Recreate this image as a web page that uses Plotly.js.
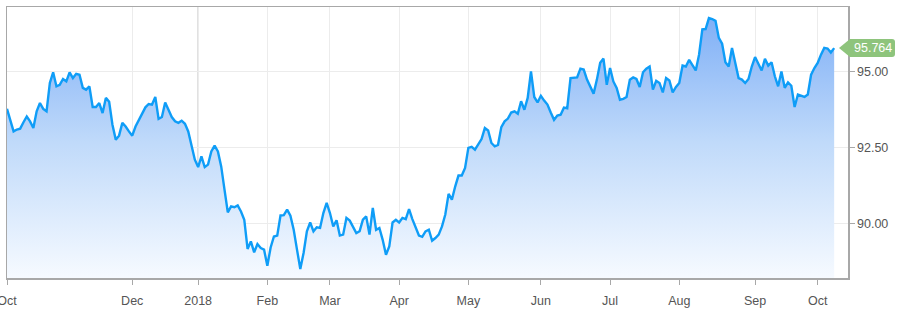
<!DOCTYPE html>
<html>
<head>
<meta charset="utf-8">
<script src="https://cdn.plot.ly/plotly-3.0.1.min.js"></script>
<style>
  html, body { margin: 0; padding: 0; background: #fff; }
  #chart { width: 900px; height: 317px; }
</style>
</head>
<body>
<div id="chart"></div>
<script>
// Daily closing values (one per trading day, Oct 2017 – Oct 2018)
const closeValues = [
  93.77, 93.36, 93.03, 93.09, 93.12, 93.33, 93.52, 93.36, 93.14, 93.69,
  93.96, 93.77, 93.69, 94.62, 94.97, 94.51, 94.56, 94.75, 94.67, 94.97,
  94.78, 94.92, 94.89, 94.46, 94.40, 94.51, 93.83, 93.83, 93.96, 93.63,
  94.13, 94.00, 93.25, 92.76, 92.89, 93.31, 93.19, 93.03, 92.89, 93.19,
  93.40, 93.63, 93.82, 93.93, 93.91, 94.16, 93.44, 93.50, 93.98, 93.74,
  93.50, 93.36, 93.31, 93.38, 93.28, 93.03, 92.59, 92.10, 91.86, 92.21,
  91.86, 91.94, 92.37, 92.56, 92.37, 91.88, 91.12, 90.37, 90.57, 90.54,
  90.60, 90.40, 90.13, 89.17, 89.42, 89.06, 89.33, 89.20, 89.15, 88.62,
  89.22, 89.58, 89.61, 90.27, 90.28, 90.46, 90.26, 89.80, 89.15, 88.51,
  89.04, 89.75, 90.04, 89.75, 89.88, 89.86, 90.35, 90.68, 90.35, 89.91,
  90.11, 89.61, 89.64, 90.19, 90.10, 89.91, 89.69, 89.75, 90.13, 90.24,
  89.64, 90.52, 89.80, 89.86, 89.47, 88.98, 89.25, 90.04, 90.13, 90.04,
  90.19, 90.15, 90.48, 90.15, 89.86, 89.61, 89.57, 89.75, 89.80, 89.44,
  89.53, 89.64, 89.91, 90.30, 90.98, 90.79, 91.22, 91.58, 91.58, 91.83,
  92.49, 92.52, 92.43, 92.59, 92.78, 93.14, 93.06, 92.65, 92.54, 92.59,
  93.17, 93.36, 93.45, 93.65, 93.69, 93.61, 94.02, 93.74, 94.13, 95.00,
  94.16, 93.98, 94.20, 94.04, 93.91, 93.65, 93.41, 93.55, 93.58, 93.81,
  93.79, 94.78, 94.80, 94.80, 95.09, 95.06, 94.73, 94.51, 94.27, 94.73,
  95.28, 95.42, 94.56, 95.11, 94.67, 94.46, 94.07, 94.10, 94.16, 94.73,
  94.80, 94.75, 94.49, 94.97, 95.09, 95.16, 94.40, 94.69, 94.62, 94.31,
  94.78, 94.70, 94.31, 94.49, 94.62, 95.19, 95.16, 95.38, 95.19, 95.03,
  95.55, 96.38, 96.39, 96.75, 96.72, 96.66, 96.10, 95.91, 95.30, 95.16,
  95.77, 95.22, 94.78, 94.73, 94.62, 94.75, 95.16, 95.47, 95.22, 95.03,
  95.41, 95.19, 95.30, 94.84, 94.51, 95.00, 94.46, 94.64, 94.53, 93.83,
  94.24, 94.20, 94.16, 94.24, 94.89, 95.11, 95.28, 95.55, 95.77, 95.75,
  95.62, 95.764
];
// Trading-day index of each month tick, and its label
const tickDays   = [0, 38, 58, 79, 98, 119, 140, 162, 183, 204, 227, 246];
const tickLabels = ['Oct', 'Dec', '2018', 'Feb', 'Mar', 'Apr', 'May', 'Jun', 'Jul', 'Aug', 'Sep', 'Oct'];
const yTickVals  = [90, 92.5, 95];
const yTickText  = ['90.00', '92.50', '95.00'];
const yearDay    = 58;
const lastValue  = closeValues[closeValues.length - 1];

const dayIndex = closeValues.map((_, i) => i);
const yMin = 88.217, yMax = 97.114;

const trace = {
  x: dayIndex,
  y: closeValues,
  type: 'scatter',
  mode: 'lines',
  line: { color: '#0f9df7', width: 2.4 },
  fill: 'tozeroy',
  fillgradient: {
    type: 'vertical',
    start: yMin,
    stop: yMax,
    colorscale: [[0, 'rgb(246,250,255)'], [0.5, 'rgb(192,218,250)'], [1, 'rgb(122,172,246)']]
  },
  hoverinfo: 'skip'
};

const fontFam = '"Liberation Sans", Arial, Helvetica, sans-serif';

const layout = {
  width: 900, height: 317,
  margin: { l: 7, r: 52, t: 7, b: 39, pad: 0 },
  paper_bgcolor: '#ffffff',
  plot_bgcolor: '#ffffff',
  showlegend: false,
  font: { family: fontFam, size: 12, color: '#555555' },
  xaxis: {
    type: 'linear',
    range: [0, 255.2],
    tickmode: 'array',
    tickvals: tickDays,
    ticktext: tickLabels,
    ticks: 'outside',
    ticklen: 5,
    tickcolor: '#a8a8a8',
    showgrid: true,
    gridcolor: '#ececec',
    gridwidth: 1,
    showline: true,
    linecolor: '#a8a8a8',
    linewidth: 1.5,
    mirror: true,
    zeroline: false,
    ticklabeloverflow: 'allow',
    ticklabelstandoff: 5,
    tickfont: { family: fontFam, size: 12.5, color: '#555555' },
    fixedrange: true
  },
  yaxis: {
    side: 'right',
    range: [yMin, yMax],
    tickmode: 'array',
    tickvals: yTickVals,
    ticktext: yTickText,
    ticks: 'outside',
    ticklen: 5,
    tickcolor: '#a8a8a8',
    showgrid: true,
    gridcolor: '#ececec',
    gridwidth: 1,
    showline: true,
    linecolor: '#a8a8a8',
    linewidth: 1.5,
    mirror: true,
    zeroline: false,
    tickfont: { family: fontFam, size: 12.5, color: '#555555' },
    fixedrange: true
  },
  shapes: [
    {
      type: 'line', xref: 'x', yref: 'paper',
      x0: yearDay, x1: yearDay, y0: 0, y1: 1,
      line: { color: '#cfcfcf', width: 1.5 },
      layer: 'below'
    },
    {
      type: 'path', xref: 'paper', yref: 'y',
      xsizemode: 'pixel', ysizemode: 'pixel',
      xanchor: 1, yanchor: lastValue,
      path: 'M -9 0 L 2 9 L 44 9 Q 47 9 47 6 L 47 -6 Q 47 -9 44 -9 L 2 -9 Z',
      fillcolor: '#8ec47c',
      line: { width: 0 },
      layer: 'above'
    }
  ],
  annotations: [
    {
      xref: 'paper', yref: 'y',
      x: 1, y: lastValue,
      xanchor: 'center', yanchor: 'middle',
      xshift: 24.5,
      text: lastValue.toFixed(3),
      showarrow: false,
      font: { family: fontFam, size: 12.5, color: '#ffffff' }
    }
  ]
};

Plotly.newPlot('chart', [trace], layout, { displayModeBar: false, staticPlot: true });
</script>
</body>
</html>
